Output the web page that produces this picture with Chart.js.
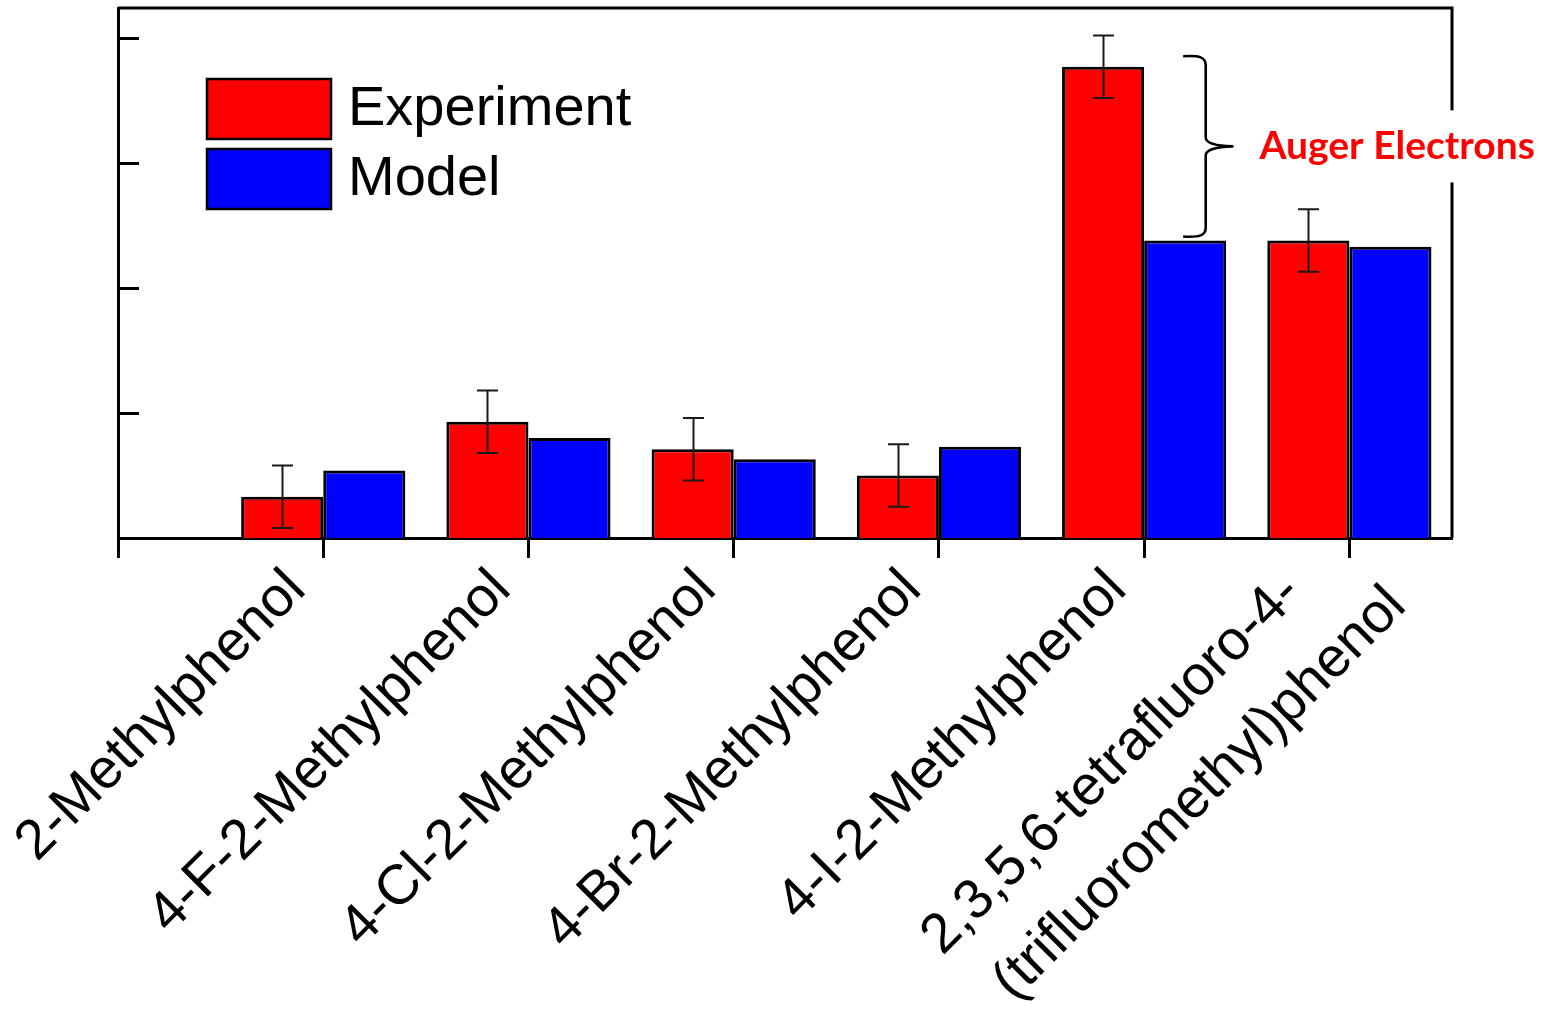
<!DOCTYPE html>
<html>
<head>
<meta charset="utf-8">
<script src="https://cdn.jsdelivr.net/npm/chart.js@4.4.1/dist/chart.umd.min.js"></script>
<style>
  html, body { margin: 0; padding: 0; background: #ffffff; }
  #wrap { width: 1556px; height: 1009px; position: relative; }
</style>
</head>
<body>
<div id="wrap"><canvas id="chart" width="1556" height="1009"></canvas></div>
<script>
// ---- data ----
const categories = [
  ['2-Methylphenol'],
  ['4-F-2-Methylphenol'],
  ['4-Cl-2-Methylphenol'],
  ['4-Br-2-Methylphenol'],
  ['4-I-2-Methylphenol'],
  ['2,3,5,6-tetrafluoro-4-', '(trifluoromethyl)phenol']
];
const seriesNames = ['Experiment', 'Model'];
const experiment = [0.33, 0.93, 0.71, 0.50, 3.77, 2.38];
const experimentError = [0.25, 0.25, 0.25, 0.25, 0.25, 0.25];
const model = [0.54, 0.80, 0.63, 0.73, 2.38, 2.33];
const yTickValues = [0, 1, 2, 3, 4];
const annotationText = 'Auger Electrons';
const annotatedIndex = 4;

// ---- styling ----
const RED = '#ff0000';
const BLUE = '#0000ff';
const INK = '#000000';
const LABEL_FONT = '56px "Liberation Sans", Arial, sans-serif';
const LEGEND_FONT = '56px "Liberation Sans", Arial, sans-serif';
const NOTE_FONT = 'bold 39px Lato, "Open Sans", sans-serif';

const positions = categories.map((_, i) => i + 1);
const toPoints = vals => vals.map((v, i) => ({ x: positions[i], y: v }));

// frame around the plot area (top and right edges complete the box)
const framePlugin = {
  id: 'frame',
  afterDatasetsDraw(chart) {
    const { ctx, chartArea: a } = chart;
    ctx.save();
    ctx.strokeStyle = INK;
    ctx.lineWidth = 3;
    ctx.beginPath();
    ctx.moveTo(a.left, a.top);
    ctx.lineTo(a.right, a.top);
    ctx.lineTo(a.right, a.bottom);
    ctx.stroke();
    // inward ticks on the value axis
    const y = chart.scales.y;
    ctx.beginPath();
    yTickValues.forEach(v => {
      const py = Math.round(y.getPixelForValue(v)) + 0.5;
      ctx.moveTo(a.left, py);
      ctx.lineTo(a.left + 21, py);
    });
    ctx.stroke();
    ctx.restore();
  }
};

// error whiskers on the experiment bars
const errorBarPlugin = {
  id: 'errorBars',
  afterDatasetsDraw(chart) {
    const { ctx } = chart;
    const y = chart.scales.y;
    const meta = chart.getDatasetMeta(0);
    ctx.save();
    ctx.strokeStyle = '#1a1a1a';
    ctx.lineWidth = 2;
    meta.data.forEach((bar, i) => {
      const cx = Math.round(bar.x) + 0.5;
      const hi = y.getPixelForValue(experiment[i] + experimentError[i]);
      const lo = y.getPixelForValue(experiment[i] - experimentError[i]);
      ctx.beginPath();
      ctx.moveTo(cx, hi); ctx.lineTo(cx, lo);
      ctx.moveTo(cx - 10.5, hi); ctx.lineTo(cx + 10.5, hi);
      ctx.moveTo(cx - 10.5, lo); ctx.lineTo(cx + 10.5, lo);
      ctx.stroke();
    });
    ctx.restore();
  }
};

// rotated category labels under the axis
const labelAnchor = [{ along: -49, perp: 27 }];
const twoLineAnchor = [{ along: -73, perp: 8 }, { along: -8, perp: 91 }];
const categoryLabelPlugin = {
  id: 'categoryLabels',
  afterDraw(chart) {
    const { ctx, chartArea: a } = chart;
    const x = chart.scales.x;
    ctx.save();
    ctx.fillStyle = INK;
    ctx.font = LABEL_FONT;
    ctx.textAlign = 'right';
    ctx.textBaseline = 'alphabetic';
    categories.forEach((lines, i) => {
      const anchors = lines.length > 1 ? twoLineAnchor : labelAnchor;
      ctx.save();
      ctx.translate(x.getPixelForValue(positions[i]), a.bottom);
      ctx.rotate(-Math.PI / 4);
      lines.forEach((txt, k) => ctx.fillText(txt, anchors[k].along, anchors[k].perp));
      ctx.restore();
    });
    ctx.restore();
  }
};

// legend drawn inside the plot area
const legendPlugin = {
  id: 'insetLegend',
  afterDraw(chart) {
    const { ctx, chartArea: a } = chart;
    const left = a.left + 89, top = a.top + 71, w = 124, h = 60, gap = 10;
    ctx.save();
    ctx.font = LEGEND_FONT;
    ctx.textBaseline = 'middle';
    ctx.textAlign = 'left';
    chart.data.datasets.forEach((ds, i) => {
      const by = top + i * (h + gap);
      ctx.fillStyle = ds.backgroundColor;
      ctx.fillRect(left, by, w, h);
      ctx.strokeStyle = INK;
      ctx.lineWidth = 2.5;
      ctx.strokeRect(left, by, w, h);
      ctx.fillStyle = INK;
      ctx.fillText(ds.label, left + w + 17, by + h / 2 + 1);
    });
    ctx.restore();
  }
};

// curly brace between experiment and model for the iodinated compound
const bracePlugin = {
  id: 'auger',
  afterDraw(chart) {
    const { ctx } = chart;
    const x = chart.scales.x, y = chart.scales.y;
    const c = positions[annotatedIndex];
    const xe = x.getPixelForValue(c + 0.19);
    const xs = x.getPixelForValue(c + 0.30);
    const xt = x.getPixelForValue(c + 0.43);
    const yTop = y.getPixelForValue(experiment[annotatedIndex]) - 10.5;
    const yBot = y.getPixelForValue(model[annotatedIndex]) - 4;
    const yMid = (yTop + yBot) / 2;
    ctx.save();
    ctx.strokeStyle = INK;
    ctx.lineWidth = 2.6;
    ctx.lineJoin = 'round';
    ctx.beginPath();
    ctx.moveTo(xe, yTop);
    ctx.bezierCurveTo(xs - 6, yTop - 1, xs, yTop + 1, xs, yTop + 9);
    ctx.lineTo(xs, yMid - 9);
    ctx.quadraticCurveTo(xs, yMid - 1, xt, yMid);
    ctx.quadraticCurveTo(xs, yMid + 1, xs, yMid + 9);
    ctx.lineTo(xs, yBot - 9);
    ctx.bezierCurveTo(xs, yBot - 1, xs - 6, yBot + 1, xe, yBot);
    ctx.stroke();

    ctx.font = NOTE_FONT;
    const tw = ctx.measureText(annotationText).width;
    const tx = xt + 27;
    ctx.fillStyle = '#ffffff';
    ctx.fillRect(tx - 8, yMid - 36, tw + 16, 72);
    ctx.fillStyle = RED;
    ctx.textAlign = 'left';
    ctx.textBaseline = 'alphabetic';
    ctx.fillText(annotationText, tx, yMid + 13);
    ctx.restore();
  }
};

new Chart(document.getElementById('chart'), {
  type: 'bar',
  data: {
    datasets: [
      { label: seriesNames[0], data: toPoints(experiment), backgroundColor: RED, borderColor: INK, borderWidth: 3 },
      { label: seriesNames[1], data: toPoints(model), backgroundColor: BLUE, borderColor: INK, borderWidth: 3 }
    ]
  },
  options: {
    responsive: false,
    devicePixelRatio: 1,
    animation: false,
    categoryPercentage: 0.8,
    barPercentage: 1.0,
    layout: { padding: { left: 0, top: 8, right: 104, bottom: 0 } },
    plugins: { legend: { display: false }, tooltip: { enabled: false } },
    scales: {
      x: {
        type: 'linear',
        min: 0,
        max: 6.5,
        offset: false,
        afterBuildTicks: s => { s.ticks = [0].concat(positions).map(v => ({ value: v })); },
        afterFit: s => { s.height = 1009 - 538; },
        ticks: { display: false },
        grid: { display: true, offset: false, drawOnChartArea: false, drawTicks: true, tickLength: 20, tickWidth: 3, tickColor: INK },
        border: { display: true, color: INK, width: 3 }
      },
      y: {
        min: 0,
        max: 4.24,
        afterBuildTicks: s => { s.ticks = yTickValues.map(v => ({ value: v })); },
        afterFit: s => { s.width = 118; },
        ticks: { display: false },
        grid: { display: false },
        border: { display: true, color: INK, width: 3 }
      }
    }
  },
  plugins: [framePlugin, errorBarPlugin, categoryLabelPlugin, legendPlugin, bracePlugin]
});
</script>
</body>
</html>
